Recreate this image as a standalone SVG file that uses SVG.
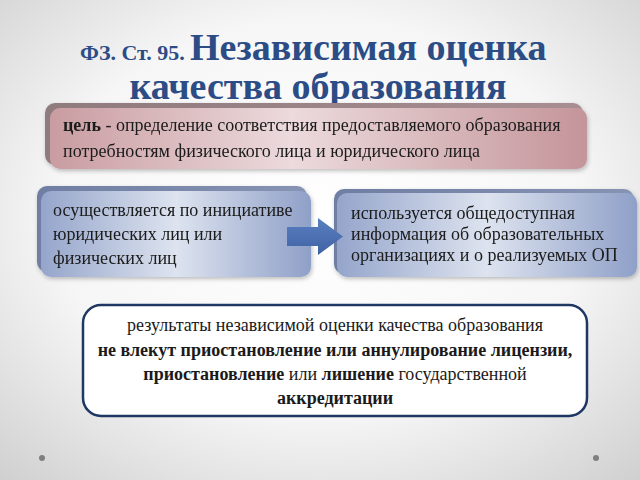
<svg xmlns="http://www.w3.org/2000/svg" width="640" height="480" viewBox="0 0 640 480">
  <defs>
    <radialGradient id="bg" cx="50%" cy="45%" r="75%">
      <stop offset="0" stop-color="#ffffff"/>
      <stop offset="0.55" stop-color="#f6f6f6"/>
      <stop offset="1" stop-color="#cfcfcf"/>
    </radialGradient>
    <linearGradient id="pink" x1="0" y1="0" x2="1" y2="0">
      <stop offset="0" stop-color="#c99ca1"/>
      <stop offset="0.45" stop-color="#ecdadc"/>
      <stop offset="1" stop-color="#c4959a"/>
    </linearGradient>
    <linearGradient id="pinkBack" x1="0" y1="0" x2="1" y2="0">
      <stop offset="0" stop-color="#8f7a7d"/>
      <stop offset="1" stop-color="#a88e92"/>
    </linearGradient>
    <linearGradient id="blue" x1="0" y1="0" x2="1" y2="0">
      <stop offset="0" stop-color="#95a5cb"/>
      <stop offset="0.5" stop-color="#dde3ef"/>
      <stop offset="1" stop-color="#8fa0c8"/>
    </linearGradient>
    <linearGradient id="blueBack" x1="0" y1="0" x2="1" y2="0">
      <stop offset="0" stop-color="#6f7ea3"/>
      <stop offset="1" stop-color="#8793b3"/>
    </linearGradient>
    <linearGradient id="arrowGrad" x1="0" y1="0" x2="0" y2="1">
      <stop offset="0" stop-color="#5a7fc0"/>
      <stop offset="1" stop-color="#3f62a3"/>
    </linearGradient>
    <filter id="soft" x="-5%" y="-10%" width="110%" height="125%">
      <feDropShadow dx="1" dy="2" stdDeviation="2" flood-color="#000" flood-opacity="0.25"/>
    </filter>
  </defs>
  <style>
    text { font-family: 'Liberation Serif', 'DejaVu Serif', serif; }
    .t { fill: #1a1a1a; font-size: 18px; }
    .b { font-weight: bold; }
    .title { fill: #2c4c86; font-weight: bold; }
  </style>

  <rect x="0" y="0" width="640" height="480" fill="url(#bg)"/>

  <g id="title">
    <text class="title" x="80" y="60" font-size="22">ФЗ. Ст. 95.</text>
    <text class="title" x="190" y="60" font-size="38">Независимая оценка</text>
    <text class="title" x="318" y="99" font-size="38" text-anchor="middle">качества образования</text>
  </g>

  <g id="goal" filter="url(#soft)">
    <rect x="45" y="103" width="538" height="62" rx="10" fill="url(#pinkBack)"/>
    <rect x="50" y="108" width="537" height="61" rx="10" fill="url(#pink)"/>
    <text class="t" x="63" y="131"><tspan class="b">цель</tspan> - определение соответствия предоставляемого образования</text>
    <text class="t" x="63" y="157">потребностям физического лица и юридического лица</text>
  </g>

  <g id="initiative" filter="url(#soft)">
    <rect x="37" y="186" width="270" height="86" rx="10" fill="url(#blueBack)"/>
    <rect x="41" y="191" width="270" height="86" rx="10" fill="url(#blue)"/>
    <text class="t" x="53" y="216">осуществляется по инициативе</text>
    <text class="t" x="53" y="240">юридических лиц или</text>
    <text class="t" x="53" y="264">физических лиц</text>
  </g>

  <g id="info" filter="url(#soft)">
    <rect x="334" y="189" width="300" height="85" rx="10" fill="url(#blueBack)"/>
    <rect x="337" y="193" width="300" height="84" rx="10" fill="url(#blue)"/>
    <text class="t" x="351" y="219">используется общедоступная</text>
    <text class="t" x="351" y="240">информация об образовательных</text>
    <text class="t" x="351" y="261">организациях и о реализуемых ОП</text>
  </g>

  <g id="connectors">
    <polygon points="287,227 318,227 318,218 343,236.5 318,255 318,246 287,246" fill="url(#arrowGrad)"/>
  </g>

  <g id="results">
    <rect x="83" y="305" width="504" height="111" rx="18" fill="#ffffff" stroke="#1f3763" stroke-width="2.5"/>
    <text class="t" x="335" y="331" text-anchor="middle">результаты независимой оценки качества образования</text>
    <text class="t b" x="335" y="356" text-anchor="middle">не влекут приостановление или аннулирование лицензии,</text>
    <text class="t" x="335" y="380" text-anchor="middle"><tspan class="b">приостановление</tspan>  или <tspan class="b">лишение</tspan> государственной</text>
    <text class="t b" x="335" y="404" text-anchor="middle">аккредитации</text>
  </g>

  <g id="dots" fill="#7f7f7f">
    <circle cx="42" cy="458" r="3"/>
    <circle cx="596" cy="458" r="3"/>
  </g>
</svg>
